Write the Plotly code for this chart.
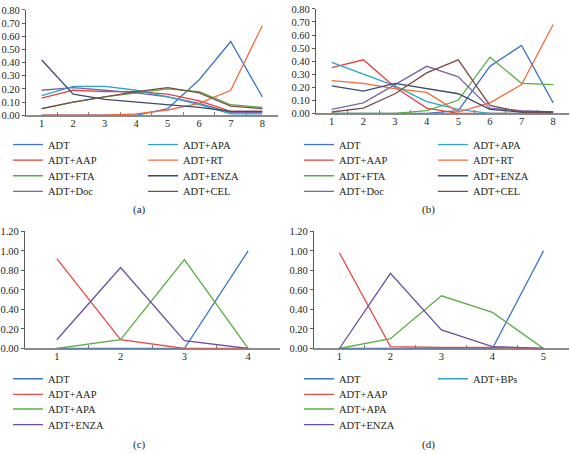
import plotly.graph_objects as go

# ---------------- data ----------------
cycles_ab = ["1", "2", "3", "4", "5", "6", "7", "8"]
ranks_c = ["1", "2", "3", "4"]
ranks_d = ["1", "2", "3", "4", "5"]

# panel (a)
a_ADT = [0.00, 0.00, 0.00, 0.00, 0.05, 0.27, 0.56, 0.14]
a_AAP = [0.13, 0.19, 0.18, 0.18, 0.16, 0.11, 0.03, 0.03]
a_FTA = [0.05, 0.10, 0.14, 0.17, 0.20, 0.18, 0.08, 0.06]
a_Doc = [0.19, 0.21, 0.19, 0.17, 0.14, 0.09, 0.02, 0.02]
a_APA = [0.15, 0.22, 0.22, 0.19, 0.14, 0.08, 0.01, 0.01]
a_RT = [0.00, 0.00, 0.00, 0.01, 0.04, 0.09, 0.19, 0.68]
a_ENZA = [0.42, 0.16, 0.12, 0.10, 0.08, 0.06, 0.03, 0.03]
a_CEL = [0.05, 0.10, 0.14, 0.18, 0.21, 0.17, 0.07, 0.05]

# panel (b)
b_ADT = [0.00, 0.00, 0.00, 0.00, 0.02, 0.36, 0.52, 0.08]
b_AAP = [0.35, 0.41, 0.20, 0.04, 0.00, 0.00, 0.00, 0.00]
b_FTA = [0.00, 0.00, 0.00, 0.02, 0.10, 0.43, 0.23, 0.22]
b_Doc = [0.03, 0.08, 0.22, 0.36, 0.28, 0.04, 0.02, 0.01]
b_APA = [0.39, 0.30, 0.21, 0.09, 0.03, 0.00, 0.00, 0.00]
b_RT = [0.25, 0.23, 0.19, 0.16, 0.01, 0.08, 0.22, 0.68]
b_ENZA = [0.21, 0.17, 0.23, 0.19, 0.15, 0.03, 0.01, 0.01]
b_CEL = [0.01, 0.04, 0.15, 0.31, 0.41, 0.06, 0.01, 0.00]

# panel (c)
c_ADT = [0.00, 0.00, 0.00, 1.00]
c_AAP = [0.92, 0.09, 0.00, 0.00]
c_APA = [0.00, 0.09, 0.91, 0.00]
c_ENZA = [0.09, 0.83, 0.08, 0.00]

# panel (d)
d_ADT = [0.00, 0.00, 0.00, 0.00, 1.00]
d_AAP = [0.98, 0.02, 0.01, 0.01, 0.00]
d_APA = [0.00, 0.10, 0.54, 0.37, 0.00]
d_ENZA = [0.00, 0.77, 0.19, 0.02, 0.00]
d_BPs = [None, None, None, None, None]

yticks_ab = [0.0, 0.1, 0.2, 0.3, 0.4, 0.5, 0.6, 0.7, 0.8]
yticks_cd = [0.0, 0.2, 0.4, 0.6, 0.8, 1.0, 1.2]

# ---------------- styles ----------------
W, H = 570, 455
FONT = "Liberation Serif"
TXT = "#231f20"
col = {
    "ADT": "#3f74c8", "ADT+AAP": "#e5403a", "ADT+FTA": "#5aad45",
    "ADT+Doc": "#7a64a8", "ADT+APA": "#2fa3c4", "ADT+RT": "#f46a3b",
    "ADT+ENZA": "#3b4b6e", "ADT+CEL": "#7b4b45",
}
col_cd = {"ADT": "#3a75c9", "ADT+AAP": "#e84a45", "ADT+APA": "#5aad45",
          "ADT+ENZA": "#6a4fa0", "ADT+BPs": "#2fa3c4"}

panels = [
    dict(k="", cats=cycles_ab,
         series=[("ADT", a_ADT), ("ADT+AAP", a_AAP), ("ADT+FTA", a_FTA), ("ADT+Doc", a_Doc),
                 ("ADT+APA", a_APA), ("ADT+RT", a_RT), ("ADT+ENZA", a_ENZA), ("ADT+CEL", a_CEL)],
         colors=col, x0=24, x1=277, yt=5, yb=113, yr=[0, 0.8], yt_vals=yticks_ab,
         leg_text_x=[48, 178], leg_rows=[143, 159, 175, 191], cap="(a)", cap_xy=(138, 210)),
    dict(k="2", cats=cycles_ab,
         series=[("ADT", b_ADT), ("ADT+AAP", b_AAP), ("ADT+FTA", b_FTA), ("ADT+Doc", b_Doc),
                 ("ADT+APA", b_APA), ("ADT+RT", b_RT), ("ADT+ENZA", b_ENZA), ("ADT+CEL", b_CEL)],
         colors=col, x0=315, x1=569, yt=4, yb=111, yr=[0, 0.8], yt_vals=yticks_ab,
         leg_text_x=[340, 469], leg_rows=[143, 159, 175, 191], cap="(b)", cap_xy=(428, 210)),
    dict(k="3", cats=ranks_c,
         series=[("ADT", c_ADT), ("ADT+AAP", c_AAP), ("ADT+APA", c_APA), ("ADT+ENZA", c_ENZA)],
         colors=col_cd, x0=23, x1=279, yt=232, yb=352, yr=[0, 1.2], yt_vals=yticks_cd,
         leg_text_x=[48, 178], leg_rows=[383, 399, 414, 430], cap="(c)", cap_xy=(138, 450)),
    dict(k="4", cats=ranks_d,
         series=[("ADT", d_ADT), ("ADT+AAP", d_AAP), ("ADT+APA", d_APA), ("ADT+ENZA", d_ENZA),
                 ("ADT+BPs", d_BPs)],
         colors=col_cd, x0=313, x1=569, yt=232, yb=352, yr=[0, 1.2], yt_vals=yticks_cd,
         leg_text_x=[340, 469], leg_rows=[383, 399, 414, 430], cap="(d)", cap_xy=(428, 450)),
]

fig = go.Figure()
layout = dict(width=W, height=H, margin=dict(l=0, r=0, t=0, b=0),
              paper_bgcolor="white", plot_bgcolor="white",
              font=dict(family=FONT, size=10.5, color=TXT))
annotations = []
leg_count = 0

for p in panels:
    k = p["k"]
    xa, ya = "xaxis" + k, "yaxis" + k
    n = len(p["cats"])
    layout[xa] = dict(domain=[p["x0"] / W, p["x1"] / W], anchor="y" + k, type="category",
                      range=[-0.5, n - 0.5], tickson="boundaries", ticks="inside", ticklen=4,
                      tickcolor="#7f7f7f", tickwidth=1, showline=True, linecolor="#8c8c8c",
                      linewidth=1.5, showgrid=False, zeroline=False, layer="below traces",
                      ticklabelstandoff=-3,
                      tickfont=dict(family=FONT, size=10.5, color=TXT))
    layout[ya] = dict(domain=[1 - p["yb"] / H, 1 - p["yt"] / H], anchor="x" + k,
                      range=p["yr"], tickvals=p["yt_vals"], tickformat=".2f", ticks="outside",
                      ticklen=3, tickcolor="#595959", showline=True, linecolor="#595959",
                      linewidth=1, showgrid=False, zeroline=False, layer="below traces",
                      tickfont=dict(family=FONT, size=10.5, color=TXT))
    ser = p["series"]
    nrows = 4
    row_ids = []
    for r, ry in enumerate(p["leg_rows"]):
        leg_count += 1
        lid = "legend" if leg_count == 1 else "legend%d" % leg_count
        row_ids.append(lid)
        layout[lid] = dict(orientation="h", x=(p["leg_text_x"][0] - 42) / W, xanchor="left",
                           y=1 - ry / H, yanchor="middle",
                           entrywidth=p["leg_text_x"][1] - p["leg_text_x"][0] - 40,
                           entrywidthmode="pixels", bgcolor="rgba(0,0,0,0)", borderwidth=0,
                           font=dict(family=FONT, size=10.5, color=TXT), traceorder="normal")
    for i, (name, vals) in enumerate(ser):
        r = i % nrows
        fig.add_trace(go.Scatter(x=p["cats"], y=vals, name=name, mode="lines",
                                 line=dict(color=p["colors"][name], width=1.3),
                                 xaxis="x" + k, yaxis="y" + k, legend=row_ids[r],
                                 showlegend=True, hoverinfo="skip"))
    annotations.append(dict(text=p["cap"], x=p["cap_xy"][0] / W, y=1 - p["cap_xy"][1] / H,
                            xref="paper", yref="paper", showarrow=False,
                            xanchor="center", yanchor="middle",
                            font=dict(family=FONT, size=11, color=TXT)))

layout["annotations"] = annotations
fig.update_layout(**layout)
fig.write_html("out.html")
